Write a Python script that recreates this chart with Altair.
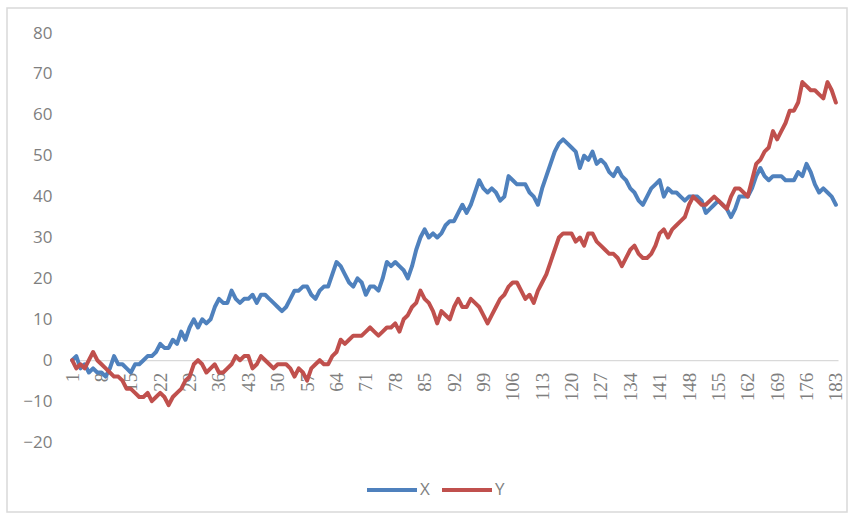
import altair as alt
import pandas as pd

# Two random-walk style series over 183 steps
series_x = [
    0, 1, -2, -1, -3, -2, -3, -3, -4, -2,
    1, -1, -1, -2, -3, -1, -1, 0, 1, 1,
    2, 4, 3, 3, 5, 4, 7, 5, 8, 10,
    8, 10, 9, 10, 13, 15, 14, 14, 17, 15,
    14, 15, 15, 16, 14, 16, 16, 15, 14, 13,
    12, 13, 15, 17, 17, 18, 18, 16, 15, 17,
    18, 18, 21, 24, 23, 21, 19, 18, 20, 19,
    16, 18, 18, 17, 20, 24, 23, 24, 23, 22,
    20, 23, 27, 30, 32, 30, 31, 30, 31, 33,
    34, 34, 36, 38, 36, 38, 41, 44, 42, 41,
    42, 41, 39, 40, 45, 44, 43, 43, 43, 41,
    40, 38, 42, 45, 48, 51, 53, 54, 53, 52,
    51, 47, 50, 49, 51, 48, 49, 48, 46, 45,
    47, 45, 44, 42, 41, 39, 38, 40, 42, 43,
    44, 40, 42, 41, 41, 40, 39, 40, 40, 40,
    39, 36, 37, 38, 39, 38, 37, 35, 37, 40,
    40, 40, 42, 45, 47, 45, 44, 45, 45, 45,
    44, 44, 44, 46, 45, 48, 46, 43, 41, 42,
    41, 40, 38,
]

series_y = [
    0, -2, -1, -2, 0, 2, 0, -1, -2, -3,
    -4, -4, -5, -7, -7, -8, -9, -9, -8, -10,
    -9, -8, -9, -11, -9, -8, -7, -5, -4, -1,
    0, -1, -3, -2, -1, -3, -3, -2, -1, 1,
    0, 1, 1, -2, -1, 1, 0, -1, -2, -1,
    -1, -1, -2, -4, -2, -3, -5, -2, -1, 0,
    -1, -1, 1, 2, 5, 4, 5, 6, 6, 6,
    7, 8, 7, 6, 7, 8, 8, 9, 7, 10,
    11, 13, 14, 17, 15, 14, 12, 9, 12, 11,
    10, 13, 15, 13, 13, 15, 14, 13, 11, 9,
    11, 13, 15, 16, 18, 19, 19, 17, 15, 16,
    14, 17, 19, 21, 24, 27, 30, 31, 31, 31,
    29, 30, 28, 31, 31, 29, 28, 27, 26, 26,
    25, 23, 25, 27, 28, 26, 25, 25, 26, 28,
    31, 32, 30, 32, 33, 34, 35, 38, 40, 39,
    38, 38, 39, 40, 39, 38, 37, 40, 42, 42,
    41, 40, 44, 48, 49, 51, 52, 56, 54, 56,
    58, 61, 61, 63, 68, 67, 66, 66, 65, 64,
    68, 66, 63,
]

series_names = ["X", "Y"]
series_colors = ["#4F81BD", "#C0504D"]
y_ticks = list(range(-20, 90, 10))
x_ticks = list(range(1, 184, 7))

steps = list(range(1, len(series_x) + 1))
df = pd.DataFrame({
    "step": steps * 2,
    "value": series_x + series_y,
    "series": ["X"] * len(series_x) + ["Y"] * len(series_y),
})

W, H = 768, 409
PAD_L, PAD_T = 70, 33

lines = alt.Chart(df).mark_line(
    strokeWidth=4, strokeJoin="round", strokeCap="round"
).encode(
    x=alt.X(
        "step:Q",
        scale=alt.Scale(domain=[0.5, 183.5], nice=False, zero=False),
        axis=alt.Axis(
            values=x_ticks,
            title=None,
            grid=False,
            ticks=False,
            domainColor="#d9d9d9",
            domainWidth=1.2,
            offset=-H * 20 / 100,
            labelAngle=270,
            labelAlign="right",
            labelBaseline="middle",
            labelPadding=12,
            labelFont="Liberation Serif, Times New Roman, serif",
            labelFontSize=19,
            labelColor="#7f7f7f",
            labelOverlap=False,
            labelFlush=False,
        ),
    ),
    y=alt.Y(
        "value:Q",
        scale=alt.Scale(domain=[-20, 80], nice=False, zero=False),
        axis=alt.Axis(
            values=y_ticks,
            title=None,
            grid=False,
            ticks=False,
            domain=False,
            labelPadding=18,
            labelFont="Open Sans",
            labelFontSize=17,
            labelColor="#7f7f7f",
        ),
    ),
    color=alt.Color(
        "series:N",
        scale=alt.Scale(domain=series_names, range=series_colors),
        legend=alt.Legend(
            title=None,
            orient="none",
            direction="horizontal",
            legendX=295,
            legendY=430,
            symbolType="stroke",
            symbolSize=2500,
            symbolStrokeWidth=4,
            labelOffset=1,
            columnPadding=4,
            labelFont="Open Sans",
            labelFontSize=17,
            labelColor="#7f7f7f",
        ),
    ),
)

# light frame around the chart area
frame = alt.Chart(pd.DataFrame({"k": [0]})).mark_rect(
    fill=None, stroke="#d9d9d9", strokeWidth=1.5
).encode(
    x=alt.value(7 - PAD_L),
    x2=alt.value(847 - PAD_L),
    y=alt.value(8 - PAD_T),
    y2=alt.value(512 - PAD_T),
)

chart = alt.layer(frame, lines).properties(
    width=W,
    height=H,
    padding={"left": PAD_L, "top": PAD_T, "right": 853 - PAD_L - W, "bottom": 519 - PAD_T - H},
    autosize=alt.AutoSizeParams(type="none"),
    background="white",
).configure_view(stroke=None)

chart.save("out.html", embed_options={"renderer": "svg", "actions": False})
